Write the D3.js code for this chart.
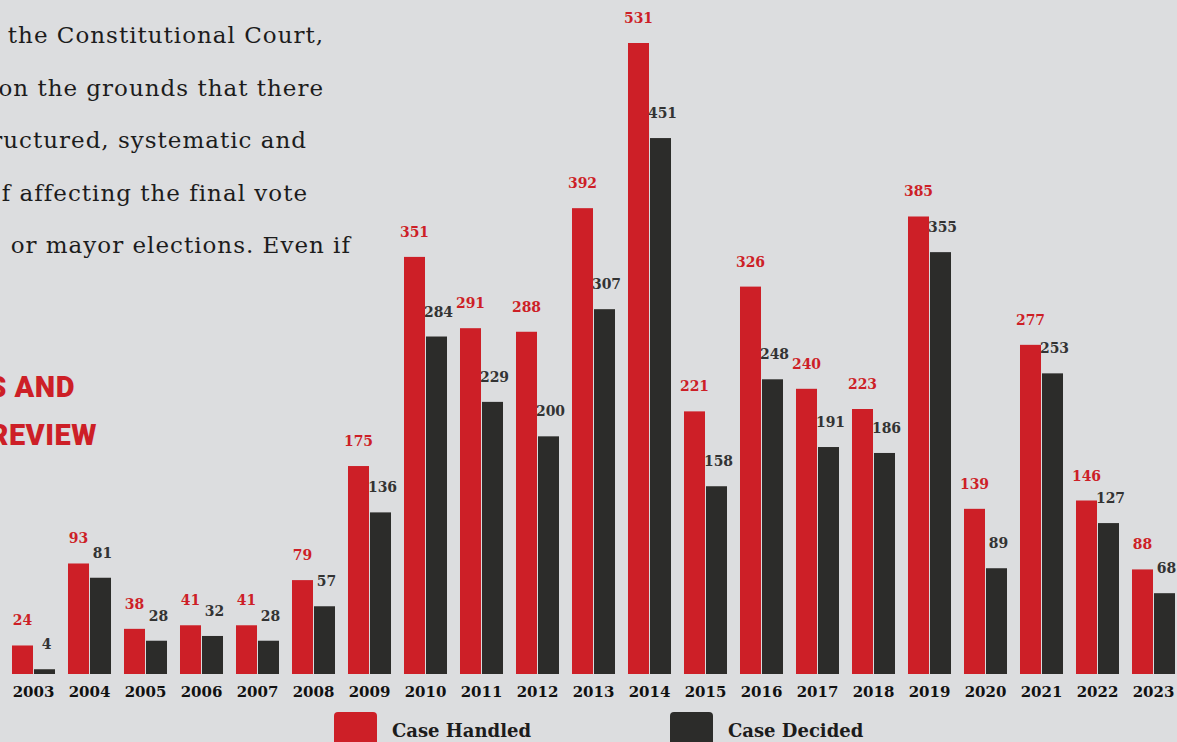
<!DOCTYPE html>
<html>
<head>
<meta charset="utf-8">
<script src="https://cdn.jsdelivr.net/npm/d3@7"></script>
<style>
  html, body { margin: 0; padding: 0; background: #dcdddf; overflow: hidden; }
  svg { display: block; }
</style>
</head>
<body>
<div id="chart"></div>
<script>
const width = 1177, height = 742;

// data
const years = ["2003","2004","2005","2006","2007","2008","2009","2010","2011","2012","2013",
               "2014","2015","2016","2017","2018","2019","2020","2021","2022","2023"];
const handled = [24, 93, 38, 41, 41, 79, 175, 351, 291, 288, 392, 531, 221, 326, 240, 223, 385, 139, 277, 146, 88];
const decided = [4, 81, 28, 32, 28, 57, 136, 284, 229, 200, 307, 451, 158, 248, 191, 186, 355, 89, 253, 127, 68];
const seriesNames = ["Case Handled", "Case Decided"];

// body text that runs in from the left (cut off by the frame)
const bodyLines = [
  "the Constitutional Court,",
  "on the grounds that there",
  "ructured, systematic and",
  "f affecting the final vote",
  "or mayor elections. Even if"
];
const bodyEnds = [323, 323, 306, 307, 350];
const headingLines = ["S AND", "REVIEW"];
const headingEnds = [75, 97];

const red = "#cd1f27", dark = "#2c2c2a";

const svg = d3.select("#chart").append("svg")
    .attr("width", width)
    .attr("height", height);

svg.append("rect").attr("width", width).attr("height", height).attr("fill", "#dcdddf");

// paragraph text
svg.append("g").selectAll("text")
    .data(bodyLines)
    .enter().append("text")
    .attr("x", (d, i) => bodyEnds[i] + 1)
    .attr("y", (d, i) => 43 + i * 52.5)
    .attr("text-anchor", "end")
    .style("font-family", "'DejaVu Serif', serif")
    .style("font-size", "23px")
    .style("letter-spacing", "1px")
    .style("fill", "#1c1c1c")
    .text(d => d);

// red heading
svg.append("g").selectAll("text")
    .data(headingLines)
    .enter().append("text")
    .attr("x", (d, i) => headingEnds[i])
    .attr("y", (d, i) => 397 + i * 48)
    .attr("text-anchor", "end")
    .style("font-family", "Roboto, sans-serif")
    .style("font-weight", 900)
    .style("font-size", "29px")
    .style("letter-spacing", "0.5px")
    .style("fill", red)
    .text(d => d);

// scales
const baseline = 674;
const x0 = d3.scaleBand()
    .domain(years)
    .range([5.5, 5.5 + 21 * 56])
    .paddingInner(0.232)
    .paddingOuter(0.116);

const x1 = d3.scaleBand()
    .domain(["handled", "decided"])
    .range([0, x0.bandwidth()])
    .paddingInner(0.045);

const y = d3.scaleLinear()
    .domain([0, d3.max(handled)])
    .range([baseline, 43]);

const rows = years.map((yr, i) => ({
  year: yr,
  values: [
    { key: "handled", value: handled[i], color: red },
    { key: "decided", value: decided[i], color: dark }
  ]
}));

const group = svg.append("g").selectAll("g")
    .data(rows)
    .enter().append("g")
    .attr("transform", d => "translate(" + x0(d.year) + ",0)");

group.selectAll("rect")
    .data(d => d.values)
    .enter().append("rect")
    .attr("x", d => x1(d.key))
    .attr("y", d => y(d.value))
    .attr("width", x1.bandwidth())
    .attr("height", d => baseline - y(d.value))
    .attr("fill", d => d.color);

// value labels
group.selectAll("text.val")
    .data(d => d.values)
    .enter().append("text")
    .attr("class", "val")
    .attr("x", d => x1(d.key) + x1.bandwidth() / 2 + (d.key === "decided" ? 2 : 0))
    .attr("y", d => y(d.value) - 20)
    .attr("text-anchor", "middle")
    .style("font-family", "'DejaVu Serif Condensed', 'DejaVu Serif', serif")
    .style("font-stretch", "condensed")
    .style("font-weight", "bold")
    .style("font-size", "15.5px")
    .style("fill", d => d.key === "handled" ? red : "#333333")
    .text(d => d.value);

// x axis (year labels, no line)
const xAxis = svg.append("g")
    .attr("transform", "translate(0," + baseline + ")")
    .call(d3.axisBottom(x0).tickSize(0).tickPadding(12));
xAxis.select(".domain").remove();
xAxis.selectAll("text")
    .attr("dy", "0.71em")
    .style("font-family", "'DejaVu Serif', serif")
    .style("font-weight", "bold")
    .style("font-size", "15px")
    .style("fill", "#111");

// legend
const legendX = [334, 670];
const legend = svg.append("g").selectAll("g")
    .data(seriesNames)
    .enter().append("g")
    .attr("transform", (d, i) => "translate(" + legendX[i] + ",712)");

legend.append("rect")
    .attr("width", 43)
    .attr("height", 43)
    .attr("rx", 4)
    .attr("fill", (d, i) => i === 0 ? red : dark);

legend.append("text")
    .attr("x", 58)
    .attr("y", 25)
    .style("font-family", "'DejaVu Serif', serif")
    .style("font-weight", "bold")
    .style("font-size", "18px")
    .style("fill", "#1c1c1c")
    .text(d => d);
</script>
</body>
</html>
